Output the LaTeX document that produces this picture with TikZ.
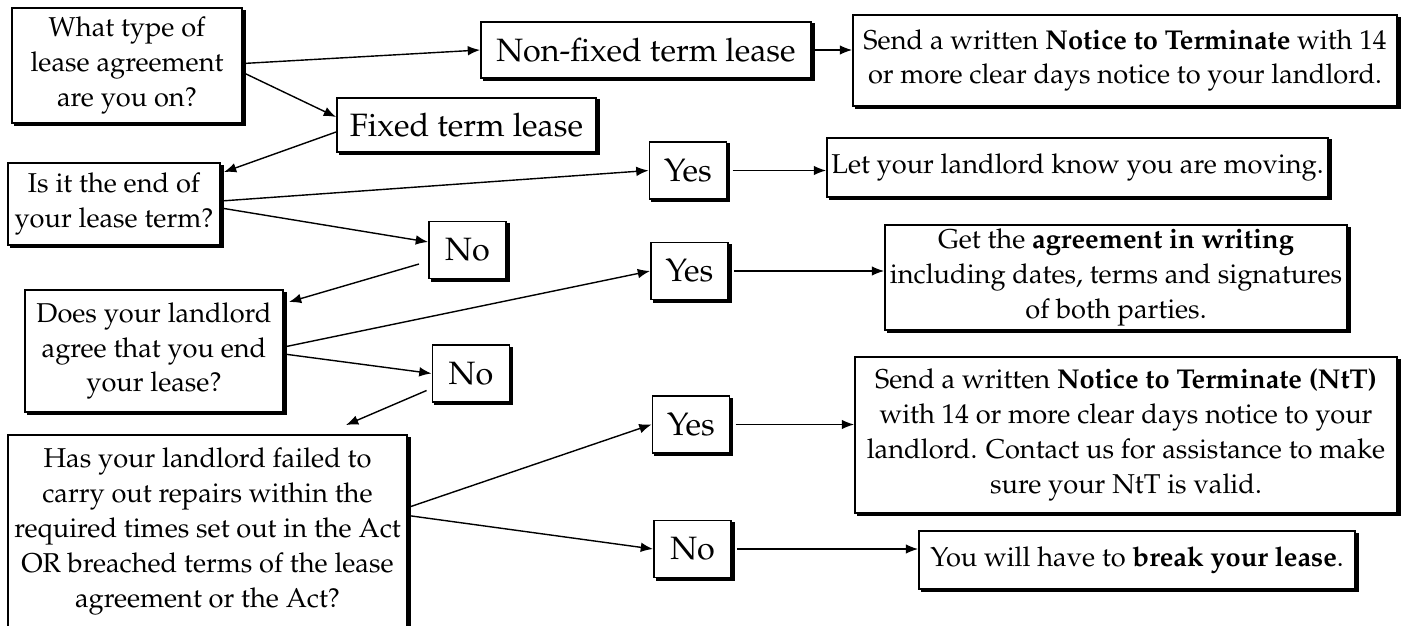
\documentclass[tikz,border=0pt]{standalone}
\usepackage[T1]{fontenc}
\usepackage{mathpazo}
\usetikzlibrary{arrows.meta, calc, positioning}
\tikzset{>=latex}
\newcommand{\qfont}{\fontsize{15.5}{19.8}\selectfont}
\newcommand{\ansfont}{\fontsize{18.4}{22}\selectfont}

\begin{document}
\begin{tikzpicture}[x=0.02cm, y=-0.02cm,
            box/.style={rectangle, draw, line width=1.1pt, fill=white, align=center, inner sep=2pt, font=\qfont,
                preaction={fill=black, draw=black, line width=1.1pt, transform canvas={xshift=1.6pt, yshift=-1.4pt}}},
            question/.style={box},
            outcome/.style={box},
            answer/.style={box, font=\ansfont},
            choice/.style={box, font=\ansfont, minimum width=1.54cm, minimum height=1.14cm},
            arrow/.style={line width=0.8pt, -{Latex[length=7pt, width=5.5pt]}}
        ]
        \useasboundingbox (0,0) rectangle (1402,625);

        % Questions
        \node[question, minimum width=4.6cm, minimum height=2.3cm] (type) at (127,65.5) {What type of\\lease agreement\\are you on?};
        \node[question, minimum width=4.24cm, minimum height=1.64cm] (endterm) at (114,204) {Is it the end of\\your lease term?};
        \node[question, minimum width=5.16cm, minimum height=2.44cm] (agree) at (154,351) {Does your landlord\\agree that you end\\your lease?};
        \node[question, minimum width=7.98cm, minimum height=3.86cm] (repairs) at (207.5,531.5) {Has your landlord failed to\\carry out repairs within the\\required times set out in the Act\\OR breached terms of the lease\\agreement or the Act?};

        % Lease types
        \node[answer, minimum width=6.6cm, minimum height=1.12cm] (nonfixed) at (646,50) {Non-fixed term lease};
        \node[answer, minimum width=5.18cm, minimum height=1.08cm] (fixed) at (466.5,125) {Fixed term lease};

        % Yes / No
        \node[choice] (yesend) at (688,170.5) {Yes};
        \node[choice] (noend) at (467.5,250) {No};
        \node[choice] (yesagree) at (689.5,271) {Yes};
        \node[choice] (noagree) at (471,373.5) {No};
        \node[choice] (yesrepairs) at (691,424.5) {Yes};
        \node[choice] (norepairs) at (692.5,549) {No};

        % Outcomes
        \node[outcome, minimum width=10.88cm, minimum height=1.82cm] (notice) at (1125,60.5) {Send a written \textbf{Notice to Terminate} with 14\\or more clear days notice to your landlord.};
        \node[outcome, minimum width=10.02cm, minimum height=1.18cm] (tell) at (1077.5,167.5) {Let your landlord know you are moving.};
        \node[outcome, minimum width=9.24cm, minimum height=2.1cm] (writing) at (1116,277.5) {Get the \textbf{agreement in writing}\\including dates, terms and signatures\\of both parties.};
        \node[outcome, minimum width=10.84cm, minimum height=3.12cm] (noticentt) at (1126,435) {Send a written \textbf{Notice to Terminate (NtT)}\\with 14 or more clear days notice to your\\landlord. Contact us for assistance to make\\sure your NtT is valid.};
        \node[outcome, minimum width=8.72cm, minimum height=1.16cm] (breaklease) at (1137,560) {You will have to \textbf{break your lease}.};

        % Arrows
        \draw[arrow] ($(type.east)+(0,-2)$) -- (nonfixed.west);
        \draw[arrow] ($(type.east)+(0,7)$) -- ($(fixed.west)+(0,-8)$);
        \draw[arrow] ($(fixed.west)+(0,7)$) -- ($(endterm.north east)+(3,10)$);
        \draw[arrow] ($(endterm.east)+(0,-3)$) -- (yesend.west);
        \draw[arrow] ($(endterm.east)+(0,4)$) -- ($(noend.west)+(0,-8)$);
        \draw[arrow] ($(noend.west)+(-9,14)$) -- ($(agree.north east)+(5,13)$);
        \draw[arrow] ($(agree.east)+(0,-4)$) -- (yesagree.west);
        \draw[arrow] ($(agree.east)+(0,3)$) -- (noagree.west);
        \draw[arrow] ($(noagree.west)+(-5,17)$) -- ($(repairs.north east)+(-62,-9)$);
        \draw[arrow] ($(repairs.east)+(0,-24)$) -- (yesrepairs.west);
        \draw[arrow] ($(repairs.east)+(0,-16)$) -- (norepairs.west);

        \draw[arrow] (nonfixed.east) -- (nonfixed.east -| notice.west);
        \draw[arrow] ([xshift=3pt]yesend.east) -- (yesend.east -| tell.west);
        \draw[arrow] ([xshift=3pt]yesagree.east) -- (yesagree.east -| writing.west);
        \draw[arrow] ([xshift=3pt]yesrepairs.east) -- (yesrepairs.east -| noticentt.west);
        \draw[arrow] ([xshift=3pt]norepairs.east) -- (norepairs.east -| breaklease.west);

    \end{tikzpicture}
\end{document}
